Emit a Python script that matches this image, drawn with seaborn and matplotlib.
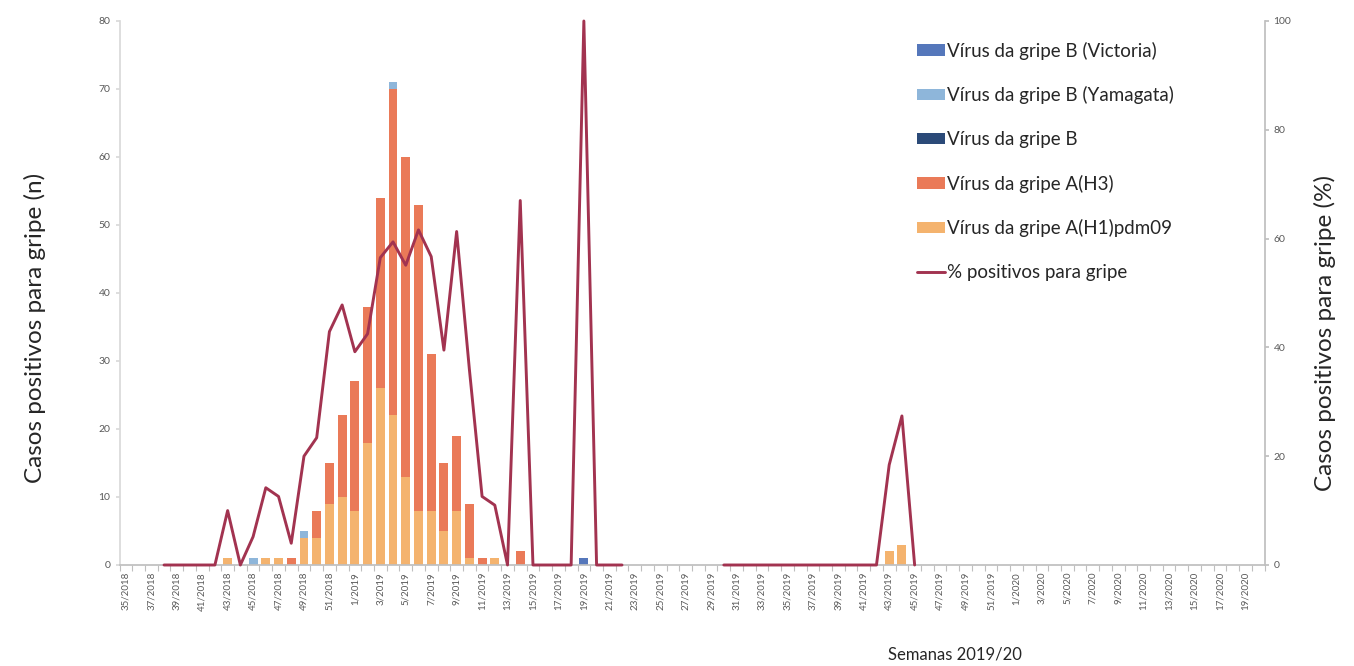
import numpy as np
import pandas as pd
import matplotlib
matplotlib.use("Agg")
import matplotlib.pyplot as plt
from matplotlib.patches import Patch
from matplotlib.lines import Line2D
import seaborn as sns

# ---------------- data ----------------
weeks_2018 = list(range(35, 53))
weeks_2019 = list(range(1, 53))
weeks_2020 = list(range(1, 21))
week_labels = ([f"{w}/2018" for w in weeks_2018] +
               [f"{w}/2019" for w in weeks_2019] +
               [f"{w}/2020" for w in weeks_2020])
n = len(week_labels)

def series(entries):
    """entries: dict label -> value; all other weeks are 0."""
    return [entries.get(lbl, 0) for lbl in week_labels]

h1_vals = series({
    "43/2018": 1, "46/2018": 1, "47/2018": 1, "49/2018": 4, "50/2018": 4,
    "51/2018": 9, "52/2018": 10,
    "1/2019": 8, "2/2019": 18, "3/2019": 26, "4/2019": 22, "5/2019": 13,
    "6/2019": 8, "7/2019": 8, "8/2019": 5, "9/2019": 8, "10/2019": 1,
    "12/2019": 1, "43/2019": 2, "44/2019": 3,
})
h3_vals = series({
    "48/2018": 1, "50/2018": 4, "51/2018": 6, "52/2018": 12,
    "1/2019": 19, "2/2019": 20, "3/2019": 28, "4/2019": 48, "5/2019": 47,
    "6/2019": 45, "7/2019": 23, "8/2019": 10, "9/2019": 11, "10/2019": 8,
    "11/2019": 1, "14/2019": 2,
})
b_vals = series({})
yamagata_vals = series({"45/2018": 1, "49/2018": 1, "4/2019": 1})
victoria_vals = series({"19/2019": 1})

pct_entries = {
    "38/2018": 0, "39/2018": 0, "40/2018": 0, "41/2018": 0, "42/2018": 0,
    "43/2018": 10, "44/2018": 0, "45/2018": 5.2, "46/2018": 14.2,
    "47/2018": 12.6, "48/2018": 4, "49/2018": 20, "50/2018": 23.4,
    "51/2018": 42.9, "52/2018": 47.8,
    "1/2019": 39.2, "2/2019": 42.5, "3/2019": 56.5, "4/2019": 59.4,
    "5/2019": 55.1, "6/2019": 61.6, "7/2019": 56.7, "8/2019": 39.5,
    "9/2019": 61.3, "10/2019": 36, "11/2019": 12.6, "12/2019": 11,
    "13/2019": 0, "14/2019": 67, "15/2019": 0, "16/2019": 0, "17/2019": 0,
    "18/2019": 0, "19/2019": 100, "20/2019": 0, "21/2019": 0, "22/2019": 0,
    "30/2019": 0, "31/2019": 0, "32/2019": 0, "33/2019": 0, "34/2019": 0,
    "35/2019": 0, "36/2019": 0, "37/2019": 0, "38/2019": 0, "39/2019": 0,
    "40/2019": 0, "41/2019": 0, "42/2019": 0, "43/2019": 18.4,
    "44/2019": 27.4, "45/2019": 0,
}
pct_vals = [pct_entries.get(lbl, np.nan) for lbl in week_labels]

series_names = ["Vírus da gripe B (Victoria)", "Vírus da gripe B (Yamagata)",
                "Vírus da gripe B", "Vírus da gripe A(H3)",
                "Vírus da gripe A(H1)pdm09"]
line_name = "% positivos para gripe"
colors = {
    "Vírus da gripe B (Victoria)": "#5577BB",
    "Vírus da gripe B (Yamagata)": "#8EB6DA",
    "Vírus da gripe B": "#2B4A78",
    "Vírus da gripe A(H3)": "#EA7A58",
    "Vírus da gripe A(H1)pdm09": "#F4B36E",
}
line_color = "#A23350"

# ---------------- figure ----------------
sns.set_theme(style="white")
plt.rcParams["font.family"] = ["Lato", "DejaVu Sans"]

fig = plt.figure(figsize=(13.54, 6.66), dpi=100)
ax = fig.add_axes([119.5 / 1354, 1 - 565 / 666, (1264.5 - 119.5) / 1354, 544 / 666])

# stacked bars (bottom -> top: H1, H3, B, Yamagata, Victoria)
stack_order = ["Vírus da gripe A(H1)pdm09", "Vírus da gripe A(H3)",
               "Vírus da gripe B", "Vírus da gripe B (Yamagata)",
               "Vírus da gripe B (Victoria)"]
values = {
    "Vírus da gripe A(H1)pdm09": np.array(h1_vals, float),
    "Vírus da gripe A(H3)": np.array(h3_vals, float),
    "Vírus da gripe B": np.array(b_vals, float),
    "Vírus da gripe B (Yamagata)": np.array(yamagata_vals, float),
    "Vírus da gripe B (Victoria)": np.array(victoria_vals, float),
}
cum = {}
running = np.zeros(n)
for name in stack_order:
    running = running + values[name]
    cum[name] = running.copy()

for name in reversed(stack_order):
    df = pd.DataFrame({"week": week_labels, "value": cum[name]})
    sns.barplot(data=df, x="week", y="value", order=week_labels,
                color=colors[name], saturation=1, width=0.7,
                linewidth=0, edgecolor="none", ax=ax)

ax.set_xlim(-0.5, n - 0.5)
ax.set_ylim(0, 80)
ax.set_yticks(np.arange(0, 81, 10))
ax.set_xticks(np.arange(n))
ax.set_xticklabels([lbl if i % 2 == 0 else "" for i, lbl in enumerate(week_labels)],
                   rotation=90, fontsize=7, color="#595959")
ax.set_xticks(np.arange(-0.5, n, 1), minor=True)
ax.tick_params(axis="x", which="major", length=0, pad=5)
ax.tick_params(axis="x", which="minor", length=4, color="#bfbfbf", width=0.8,
               bottom=True)
ax.tick_params(axis="y", labelsize=7.5, labelcolor="#595959", length=3,
               color="#d9d9d9", left=True)
ax.set_xlabel("")
ax.set_ylabel("")
for s in ["top", "right"]:
    ax.spines[s].set_visible(False)
ax.spines["left"].set_color("#d9d9d9")
ax.spines["bottom"].set_color("#bfbfbf")

# percentage line on secondary axis
ax2 = ax.twinx()
pct_arr = np.array(pct_vals, float)
seg = np.cumsum(np.isnan(pct_arr))
line_df = pd.DataFrame({"pos": np.arange(n), "pct": pct_arr, "seg": seg}).dropna()
sns.lineplot(data=line_df, x="pos", y="pct", units="seg", estimator=None,
             color=line_color, linewidth=2.1, ax=ax2, legend=False)
for ln in ax2.lines:
    ln.set_clip_on(False)
ax2.set_ylim(0, 100)
ax2.set_yticks(np.arange(0, 101, 20))
ax2.set_xlim(-0.5, n - 0.5)
ax2.set_xlabel("")
ax2.set_ylabel("")
ax2.tick_params(axis="y", labelsize=7.5, labelcolor="#595959", length=3,
                color="#bfbfbf", right=True)
for s in ["top", "left", "bottom"]:
    ax2.spines[s].set_visible(False)
ax2.spines["right"].set_color("#bfbfbf")

# axis titles
fig.text(35 / 1354, 1 - 328 / 666, "Casos positivos para gripe (n)", rotation=90,
         ha="center", va="center", fontsize=17.5, color="#262626")
fig.text(1325 / 1354, 1 - 333 / 666, "Casos positivos para gripe (%)", rotation=90,
         ha="center", va="center", fontsize=17.5, color="#262626")
fig.text(955 / 1354, 1 - 655 / 666, "Semanas 2019/20", ha="center", va="center",
         fontsize=12, color="#262626")

# legend
handles = [Patch(facecolor=colors[nm], edgecolor="none") for nm in series_names]
handles.append(Line2D([0], [0], color=line_color, linewidth=2.1))
fig.legend(handles, series_names + [line_name], loc="upper left",
           bbox_to_anchor=(909 / 1354, 1 - 34 / 666), frameon=False,
           fontsize=13.5, handlelength=1.5, handleheight=0.55, handletextpad=0.15,
           labelspacing=1.42, labelcolor="#262626", borderaxespad=0)

fig.savefig("out.png", dpi=100)
